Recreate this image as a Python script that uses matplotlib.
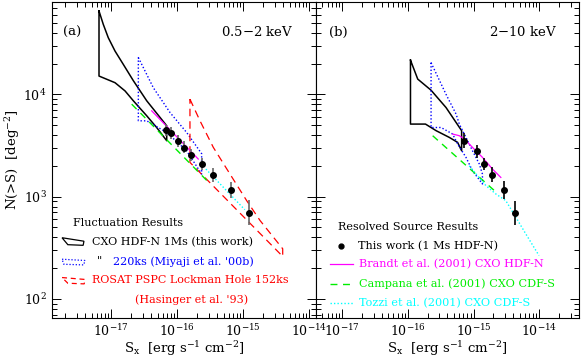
import numpy as np
import matplotlib
matplotlib.use('Agg')
import matplotlib.pyplot as plt
from matplotlib.patches import Polygon

plt.rcParams['font.family'] = ['DejaVu Serif']
plt.rcParams['mathtext.fontset'] = 'dejavuserif'

# ---------- data: 0.5-2 keV panel ----------
fluc_a_S = [6.49e-18, 7.53e-18, 8.97e-18, 1.135e-17, 1.51e-17, 2.15e-17, 3.43e-17, 6.89e-17,
            6.89e-17, 4.85e-17, 3.43e-17, 2.15e-17, 1.61e-17, 1.135e-17, 6.49e-18, 6.49e-18]
fluc_a_N = [65300, 48400, 35800, 26500, 19700, 13600, 8650, 4930,
            3520, 4740, 6170, 8650, 10800, 13000, 15100, 65300]
miyaji_a_S = [2.56e-17, 4.32e-17, 7.73e-17, 1.38e-16, 2.33e-16, 2.33e-16, 1.38e-16, 6.89e-17,
              3.43e-17, 2.56e-17, 2.56e-17]
miyaji_a_N = [22900, 11600, 6640, 4240, 2630, 1660, 2810, 4240, 5510, 5510, 22900]
rosat_a_S = [1.55e-16, 2.2e-16, 3.5e-16, 6.27e-16, 1.12e-15, 1.79e-15, 3.94e-15, 3.94e-15,
             1.55e-16, 1.55e-16]
rosat_a_N = [8970, 5510, 3030, 1660, 914, 583, 309, 260, 2160, 8970]
brandt_a_S = [4.08e-17, 2.07e-16]
brandt_a_N = [6900, 2330]
campana_a_S = [2.03e-17, 3.14e-16]
campana_a_N = [8020, 1330]
tozzi_a_S = [2.7e-16, 1.05e-15]
tozzi_a_N = [1860, 745]
pts_a_S = [6.65e-17, 7.91e-17, 1.02e-16, 1.245e-16, 1.63e-16, 2.38e-16, 3.46e-16, 6.49e-16, 1.23e-15]
pts_a_N = [4480, 4210, 3520, 3020, 2550, 2080, 1630, 1160, 698]
pts_a_lo = [3910, 3670, 3070, 2640, 2230, 1810, 1390, 960, 527]
pts_a_hi = [5130, 4820, 4030, 3460, 2920, 2380, 1910, 1400, 924]

# ---------- data: 2-10 keV panel ----------
fluc_b_S = [1.094e-16, 1.41e-16, 2.24e-16, 3.8e-16, 6.56e-16, 6.56e-16, 5.7e-16, 4.27e-16,
            2.69e-16, 1.85e-16, 1.094e-16, 1.094e-16]
fluc_b_N = [21600, 14100, 11000, 7430, 4410, 2810, 3390, 3790, 4410, 5120, 5120, 21600]
miyaji_b_S = [2.25e-16, 3.8e-16, 5.4e-16, 6.05e-16, 7.64e-16, 9.6e-16, 1.22e-15, 1.36e-15,
              1.36e-15, 9.6e-16, 7.64e-16, 5.7e-16, 4.79e-16, 3.2e-16, 2.25e-16, 2.25e-16]
miyaji_b_N = [20400, 10000, 6410, 5120, 3790, 2810, 2080, 1660,
              1330, 1790, 2420, 3270, 4090, 4740, 4740, 20400]
brandt_b_S = [4.79e-16, 6.05e-16, 7.21e-16, 9.6e-16, 1.36e-15, 1.93e-15, 2.59e-15]
brandt_b_N = [4090, 3940, 3660, 3030, 2420, 1860, 1540]
campana_b_S = [2.38e-16, 2.05e-15]
campana_b_N = [3940, 1150]
tozzi_b_S = [8.57e-16, 1.146e-15, 1.535e-15, 2.18e-15, 3.08e-15, 4.38e-15, 6.19e-15, 9.86e-15]
tozzi_b_N = [2000, 1600, 1280, 1060, 914, 628, 433, 265]
pts_b_S = [7.03e-16, 1.107e-15, 1.45e-15, 1.93e-15, 2.94e-15, 4.27e-15]
pts_b_N = [3520, 2770, 2080, 1630, 1160, 693]
pts_b_lo = [2975, 2385, 1810, 1380, 947, 530]
pts_b_hi = [4165, 3215, 2390, 1930, 1420, 907]

x_major = [1e-17, 1e-16, 1e-15, 1e-14]
y_major = [1e2, 1e3, 1e4]

C_BLUE = '#0000ff'
C_RED = '#ff0000'
C_GREEN = '#00ee00'
C_MAG = '#ff00ff'
C_CYAN = '#00ffff'

fig = plt.figure(figsize=(5.81, 3.59), dpi=100)
ax_a = fig.add_axes([52/581, 41/359, 264/581, 316/359])
ax_b = fig.add_axes([316/581, 41/359, 263/581, 316/359])


def setup(ax, xlim):
    ax.set_xscale('log')
    ax.set_yscale('log')
    ax.set_xticks(x_major)
    ax.set_yticks(y_major)
    ax.set_xlim(*xlim)
    ax.set_ylim(65, 8e4)
    ax.tick_params(which='both', direction='in', top=True, right=True, labelsize=9, width=0.7)
    ax.tick_params(which='major', length=6.5, pad=4)
    ax.tick_params(which='minor', length=3.5)
    for s in ax.spines.values():
        s.set_linewidth(0.8)
    ax.set_xlabel(r'S$_{\rm x}$  [erg s$^{-1}$ cm$^{-2}$]', fontsize=9.5, labelpad=0)


def draw_points(ax, S, N, lo, hi, ecol):
    S = np.array(S)
    N = np.array(N)
    yerr = [N - np.array(lo), np.array(hi) - N]
    ax.errorbar(S, N, yerr=yerr, fmt='o', color='black', ms=4.0, ecolor=ecol,
                elinewidth=1.2, capsize=0, zorder=5)


# ===== panel (a) =====
ax = ax_a
setup(ax, (1.259e-18, 1.259e-14))
ax.plot(fluc_a_S, fluc_a_N, color='black', lw=1.1)
ax.plot(miyaji_a_S, miyaji_a_N, color=C_BLUE, lw=1.0, ls=(0, (1, 1.5)))
ax.plot(rosat_a_S, rosat_a_N, color=C_RED, lw=0.9, ls=(0, (6, 4)))
ax.plot(brandt_a_S, brandt_a_N, color=C_MAG, lw=0.9)
ax.plot(campana_a_S, campana_a_N, color=C_GREEN, lw=1.0, ls=(0, (5, 4)))
ax.plot(tozzi_a_S, tozzi_a_N, color=C_CYAN, lw=1.0, ls=(0, (1, 1.5)))
draw_points(ax, pts_a_S, pts_a_N, pts_a_lo, pts_a_hi, '#666666')
ax.set_ylabel(r'N(>S)  [deg$^{-2}$]', fontsize=9.5, labelpad=1)
ax.text(0.04, 0.905, '(a)', transform=ax.transAxes, fontsize=9.5, va='center')
ax.text(0.913, 0.905, '0.5$-$2 keV', transform=ax.transAxes, fontsize=9.5, va='center', ha='right')

# legend (a)
T = ax.transAxes
fs = 8.0
ax.text(0.08, 0.30, 'Fluctuation Results', transform=T, fontsize=fs, va='center')
ax.add_patch(Polygon([(0.038, 0.254), (0.121, 0.243), (0.118, 0.230), (0.06, 0.232)],
                     closed=True, fill=False, ec='black', lw=0.9, transform=T))
ax.text(0.152, 0.241, 'CXO HDF-N 1Ms (this work)', transform=T, fontsize=fs, va='center')
ax.add_patch(Polygon([(0.038, 0.186), (0.125, 0.182), (0.12, 0.168), (0.045, 0.170)],
                     closed=True, fill=False, ec=C_BLUE, lw=0.9, ls=(0, (1, 1.5)), transform=T))
ax.text(0.170, 0.180, '"', transform=T, fontsize=fs, va='center')
ax.text(0.232, 0.178, "220ks (Miyaji et al. '00b)", transform=T, fontsize=fs, va='center', color=C_BLUE)
ax.add_patch(Polygon([(0.038, 0.128), (0.125, 0.122), (0.122, 0.108), (0.06, 0.110)],
                     closed=True, fill=False, ec=C_RED, lw=0.9, ls=(0, (4, 3)), transform=T))
ax.text(0.153, 0.120, 'ROSAT PSPC Lockman Hole 152ks', transform=T, fontsize=fs, va='center', color=C_RED)
ax.text(0.314, 0.057, "(Hasinger et al. '93)", transform=T, fontsize=fs, va='center', color=C_RED)

# ===== panel (b) =====
ax = ax_b
setup(ax, (4e-18, 4e-14))
ax.tick_params(labelleft=False)
ax.plot(fluc_b_S, fluc_b_N, color='black', lw=1.1)
ax.plot(miyaji_b_S, miyaji_b_N, color=C_BLUE, lw=1.0, ls=(0, (1, 1.5)))
ax.plot(brandt_b_S, brandt_b_N, color=C_MAG, lw=0.9)
ax.plot(campana_b_S, campana_b_N, color=C_GREEN, lw=1.0, ls=(0, (5, 4)))
ax.plot(tozzi_b_S, tozzi_b_N, color=C_CYAN, lw=1.0, ls=(0, (1, 1.5)))
draw_points(ax, pts_b_S, pts_b_N, pts_b_lo, pts_b_hi, 'black')
ax.text(0.05, 0.905, '(b)', transform=ax.transAxes, fontsize=9.5, va='center')
ax.text(0.916, 0.905, '2$-$10 keV', transform=ax.transAxes, fontsize=9.5, va='center', ha='right')

T = ax.transAxes
fs_b = 8.1
ax.text(0.085, 0.289, 'Resolved Source Results', transform=T, fontsize=fs_b, va='center')
ax.plot([0.094], [0.229], 'o', color='black', ms=3.5, transform=T)
ax.text(0.158, 0.229, 'This work (1 Ms HDF-N)', transform=T, fontsize=fs_b, va='center')
ax.plot([0.053, 0.14], [0.170, 0.170], color=C_MAG, lw=0.9, transform=T)
ax.text(0.163, 0.170, 'Brandt et al. (2001) CXO HDF-N', transform=T, fontsize=fs_b, va='center', color=C_MAG)
ax.plot([0.053, 0.14], [0.109, 0.109], color=C_GREEN, lw=1.0, ls=(0, (5, 4)), transform=T)
ax.text(0.163, 0.109, 'Campana et al. (2001) CXO CDF-S', transform=T, fontsize=fs_b, va='center', color=C_GREEN)
ax.plot([0.053, 0.14], [0.048, 0.048], color=C_CYAN, lw=1.0, ls=(0, (1, 1.5)), transform=T)
ax.text(0.163, 0.048, 'Tozzi et al. (2001) CXO CDF-S', transform=T, fontsize=fs_b, va='center', color=C_CYAN)

fig.savefig('out.png', dpi=100)
